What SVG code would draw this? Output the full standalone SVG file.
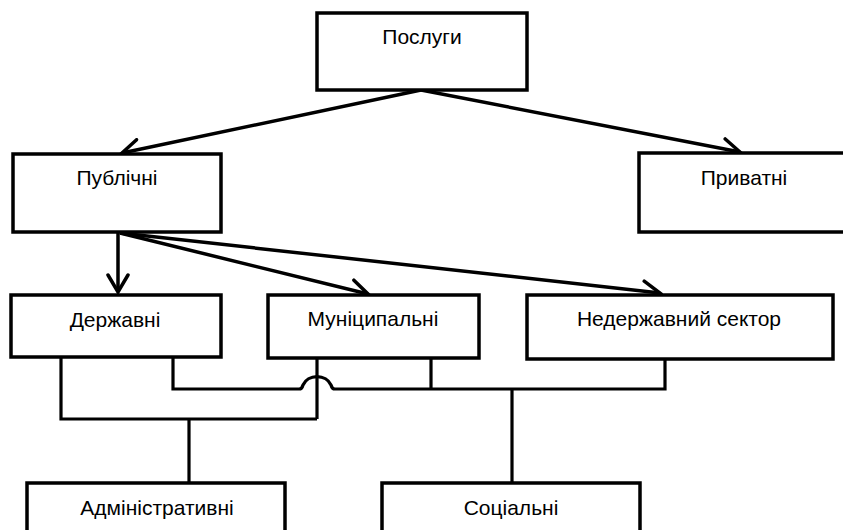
<svg xmlns="http://www.w3.org/2000/svg" width="843" height="530" viewBox="0 0 843 530">
<style>
.box{fill:#fff;stroke:#000;stroke-width:3.5}
.lbl{font-family:"Liberation Sans",Arial,sans-serif;font-size:21px;fill:#000;text-anchor:middle}
.arr{fill:none;stroke:#000;stroke-width:3.5;marker-end:url(#ah)}
.ln{fill:none;stroke:#000;stroke-width:3.2}
</style>
<defs>
<marker id="ah" markerUnits="userSpaceOnUse" viewBox="0 0 22 24" markerWidth="22" markerHeight="24" refX="19" refY="12" orient="auto">
<path d="M2,2 L19,12 L2,22" fill="none" stroke="#000" stroke-width="3.5" stroke-linecap="round" stroke-linejoin="miter"/>
</marker>
</defs>
<rect width="843" height="530" fill="#fff"/>
<g id="connectors">
<path class="arr" d="M421,90 L122,153"/>
<path class="arr" d="M421,90 L740,152"/>
<path class="arr" d="M118,232 L118,292"/>
<path class="arr" d="M120,233 L368,294"/>
<path class="arr" d="M120,233 L660,293"/>
<path class="ln" d="M61,357 V419 H317"/>
<path class="ln" d="M317,358 V419"/>
<path class="ln" d="M189,419 V483"/>
<path class="ln" d="M173,357 V389 H299 Q302,389 303,385 A15,13 0 0 1 331,385 Q332,389 335,389 H665 V359"/>
<path class="ln" d="M431,358 V389"/>
<path class="ln" d="M512,389 V483"/>
</g>
<g id="n-posluhy"><rect class="box" x="317" y="13" width="210" height="77"/><text class="lbl" x="422" y="44">Послуги</text></g>
<g id="n-publichni"><rect class="box" x="13" y="154" width="208" height="78"/><text class="lbl" x="117" y="185">Публічні</text></g>
<g id="n-pryvatni"><rect class="box" x="639" y="153" width="215" height="79"/><text class="lbl" x="744" y="185">Приватні</text></g>
<g id="n-derzhavni"><rect class="box" x="11" y="295" width="210" height="62"/><text class="lbl" x="115" y="327">Державні</text></g>
<g id="n-munitsypalni"><rect class="box" x="268" y="295" width="211" height="63"/><text class="lbl" x="373" y="326">Муніципальні</text></g>
<g id="n-nederzh"><rect class="box" x="527" y="295" width="306" height="64"/><text class="lbl" x="679" y="326">Недержавний сектор</text></g>
<g id="n-admin"><rect class="box" x="27" y="483" width="258" height="60"/><text class="lbl" x="157" y="515">Адміністративні</text></g>
<g id="n-sotsialni"><rect class="box" x="382" y="483" width="258" height="60"/><text class="lbl" x="511" y="515">Соціальні</text></g>
</svg>
